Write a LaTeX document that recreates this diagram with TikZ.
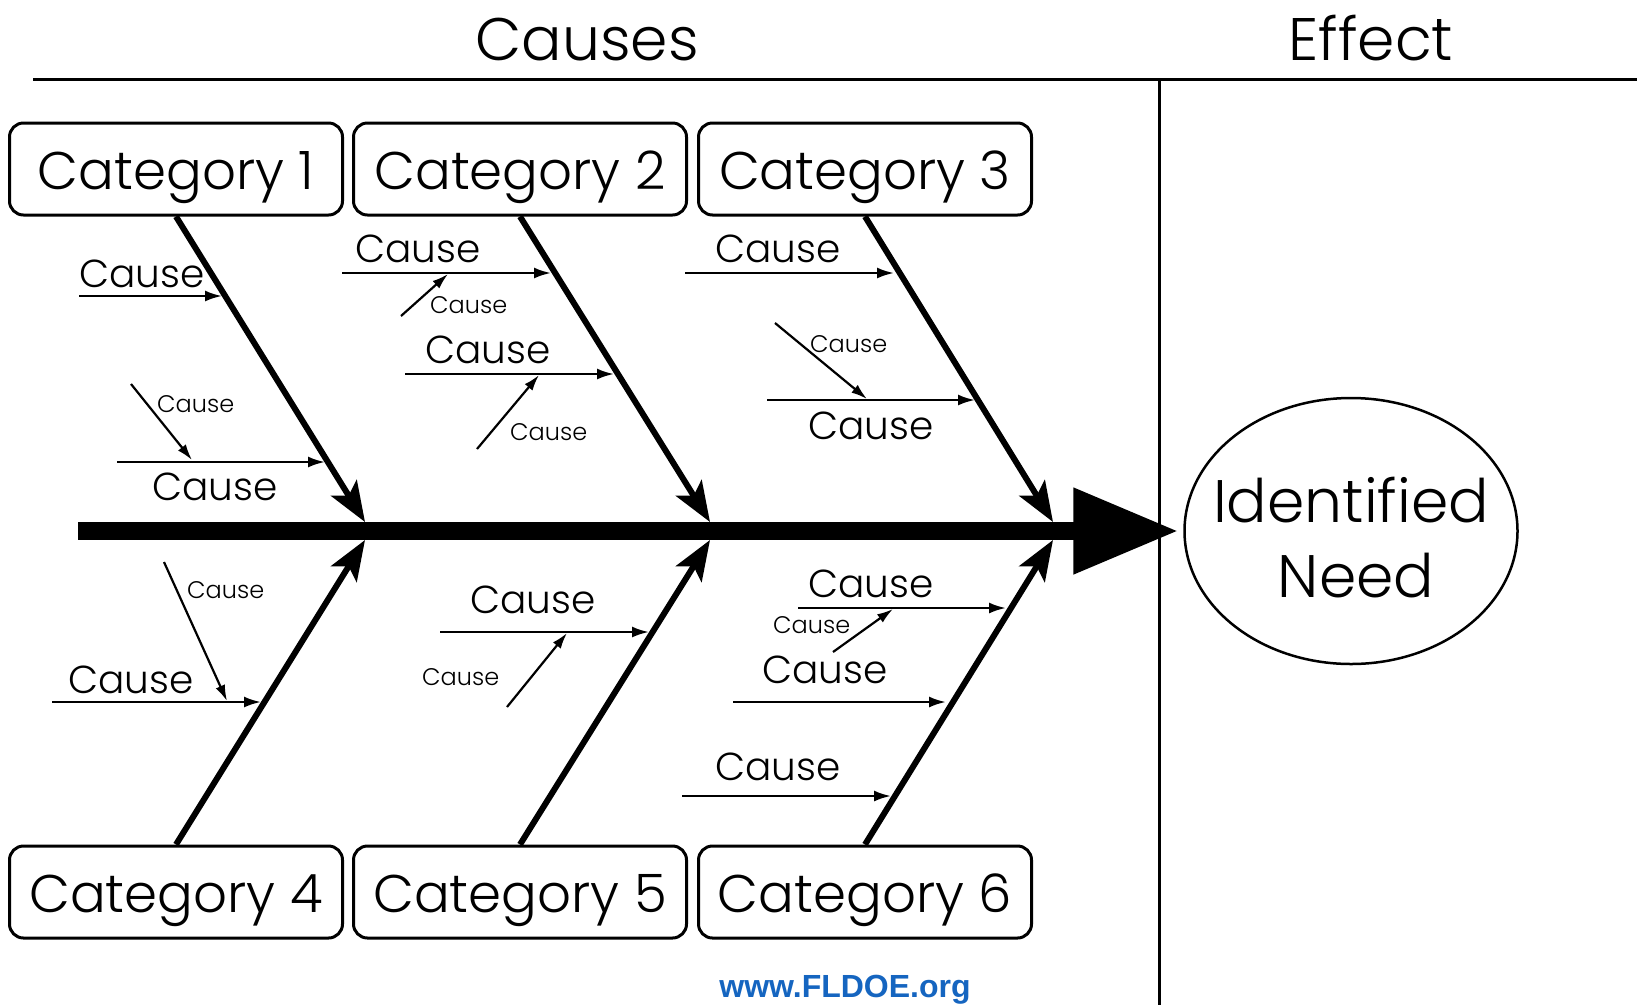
\documentclass[tikz,border=0pt]{standalone}
\usepackage{fontspec}
\setmainfont{Poppins}[UprightFont=* Light]
\newfontfamily\webfont{Liberation Sans}
\usetikzlibrary{arrows.meta,shapes.geometric}
\definecolor{webblue}{RGB}{21,101,192}
\begin{document}
\begin{tikzpicture}[x=1pt,y=-1pt,
  catbox/.style={draw, line width=3pt, rounded corners=14pt, minimum width=333pt,
    minimum height=92pt, inner sep=0pt, text height=40pt, text depth=0pt,
    font=\fontsize{53}{60}\selectfont},
  bigtxt/.style={anchor=base west, inner sep=0pt, font=\fontsize{39}{42}\selectfont},
  smalltxt/.style={anchor=base west, inner sep=0pt, font=\fontsize{24}{26}\selectfont},
  bone/.style={line width=6pt, -{Stealth[length=40pt,width=30pt,inset=9pt]}},
  causearr/.style={line width=2.4pt, -{Latex[length=17pt,width=11pt]}},
  subarr/.style={line width=2.2pt, -{Latex[length=16pt,width=10pt]}},
  ruleline/.style={line width=3pt}
]
\fill[white] (0,0) rectangle (1637,1005);
\useasboundingbox (0,0) rectangle (1637,1005);

% headings and frame lines
\node[anchor=base, inner sep=0pt, font=\fontsize{60}{70}\selectfont] (causes) at (587,60) {Causes};
\node[anchor=base, inner sep=0pt, font=\fontsize{60}{70}\selectfont] (effect) at (1371,60) {Effect};
\coordinate (hl0) at (33,79);
\coordinate (hl1) at (1637,79);
\coordinate (vl0) at (1159,79);
\coordinate (vl1) at (1159,1005);
\draw[ruleline] (hl0) -- (hl1);
\draw[ruleline] (vl0) -- (vl1);

% effect
\node[draw, ellipse, line width=2.5pt, minimum width=333pt, minimum height=266pt, inner sep=0pt] (need) at (1351,531) {};
\node[anchor=base, inner sep=0pt, font=\fontsize{60}{70}\selectfont] (needa) at (1351,522) {Identified};
\node[anchor=base, inner sep=0pt, font=\fontsize{60}{70}\selectfont] (needb) at (1356,597) {Need};

% spine
\coordinate (spine0) at (78,531);
\draw[line width=18pt, -{Triangle[length=105pt,width=82pt]}, shorten >=5pt] (spine0) -- (need.west);

% categories
\node[catbox] (c1) at (176,169) {Category 1};
\node[catbox] (c2) at (520,169) {Category 2};
\node[catbox] (c3) at (865,169) {Category 3};
\node[catbox] (c4) at (176,892) {Category 4};
\node[catbox] (c5) at (520,892) {Category 5};
\node[catbox] (c6) at (865,892) {Category 6};

% bone tips
\coordinate (t1) at (365,522);
\coordinate (t2) at (710,522);
\coordinate (t3) at (1053,522);
\coordinate (t4) at (365,540);
\coordinate (t5) at (710,540);
\coordinate (t6) at (1053,540);
\draw[bone] (c1.south) -- (t1);
\draw[bone] (c2.south) -- (t2);
\draw[bone] (c3.south) -- (t3);
\draw[bone] (c4.north) -- (t4);
\draw[bone] (c5.north) -- (t5);
\draw[bone] (c6.north) -- (t6);

% ---- bone 1 causes
\coordinate (a1s) at (79,296);  \coordinate (a1e) at (222,296);
\coordinate (b1s) at (117,462); \coordinate (b1e) at (325,462);
\coordinate (s1s) at (131,384); \coordinate (s1e) at (192,460);
\draw[causearr] (a1s) -- (a1e);
\draw[causearr] (b1s) -- (b1e);
\draw[subarr] (s1s) -- (s1e);
\node[bigtxt] (la1) at (79,287) {Cause};
\node[bigtxt] (lb1) at (152,500) {Cause};
\node[smalltxt] (ls1) at (157,412) {Cause};

% ---- bone 2 causes
\coordinate (a2s) at (342,273); \coordinate (a2e) at (551,273);
\coordinate (b2s) at (405,374); \coordinate (b2e) at (614,374);
\coordinate (s2as) at (401,316); \coordinate (s2ae) at (448,274);
\coordinate (s2bs) at (477,449); \coordinate (s2be) at (539,375);
\draw[causearr] (a2s) -- (a2e);
\draw[causearr] (b2s) -- (b2e);
\draw[subarr] (s2as) -- (s2ae);
\draw[subarr] (s2bs) -- (s2be);
\node[bigtxt] (la2) at (355,262) {Cause};
\node[bigtxt] (lb2) at (425,363) {Cause};
\node[smalltxt] (ls2a) at (430,313) {Cause};
\node[smalltxt] (ls2b) at (510,440) {Cause};

% ---- bone 3 causes
\coordinate (a3s) at (685,273); \coordinate (a3e) at (894,273);
\coordinate (b3s) at (767,400); \coordinate (b3e) at (975,400);
\coordinate (s3s) at (775,323); \coordinate (s3e) at (867,399);
\draw[causearr] (a3s) -- (a3e);
\draw[causearr] (b3s) -- (b3e);
\draw[subarr] (s3s) -- (s3e);
\node[bigtxt] (la3) at (715,262) {Cause};
\node[bigtxt] (lb3) at (808,439) {Cause};
\node[smalltxt] (ls3) at (810,352) {Cause};

% ---- bone 4 causes
\coordinate (a4s) at (52,702); \coordinate (a4e) at (261,702);
\coordinate (s4s) at (164,562); \coordinate (s4e) at (227,701);
\draw[causearr] (a4s) -- (a4e);
\draw[subarr] (s4s) -- (s4e);
\node[bigtxt] (la4) at (68,693) {Cause};
\node[smalltxt] (ls4) at (187,598) {Cause};

% ---- bone 5 causes
\coordinate (a5s) at (440,632); \coordinate (a5e) at (649,632);
\coordinate (s5s) at (507,707); \coordinate (s5e) at (567,633);
\draw[causearr] (a5s) -- (a5e);
\draw[subarr] (s5s) -- (s5e);
\node[bigtxt] (la5) at (470,613) {Cause};
\node[smalltxt] (ls5) at (422,685) {Cause};

% ---- bone 6 causes
\coordinate (a6s) at (798,608); \coordinate (a6e) at (1006,608);
\coordinate (b6s) at (733,702); \coordinate (b6e) at (946,702);
\coordinate (c6s) at (682,796); \coordinate (c6e) at (891,796);
\coordinate (s6s) at (833,652); \coordinate (s6e) at (893,609);
\draw[causearr] (a6s) -- (a6e);
\draw[causearr] (b6s) -- (b6e);
\draw[causearr] (c6s) -- (c6e);
\draw[subarr] (s6s) -- (s6e);
\node[bigtxt] (la6) at (808,597) {Cause};
\node[bigtxt] (lb6) at (762,683) {Cause};
\node[bigtxt] (lc6) at (715,780) {Cause};
\node[smalltxt] (ls6) at (773,633) {Cause};

% website
\node[anchor=base, inner sep=0pt, text=webblue,
  font=\webfont\bfseries\fontsize{32}{36}\selectfont] (web) at (845,997) {www.FLDOE.org};
\end{tikzpicture}
\end{document}
